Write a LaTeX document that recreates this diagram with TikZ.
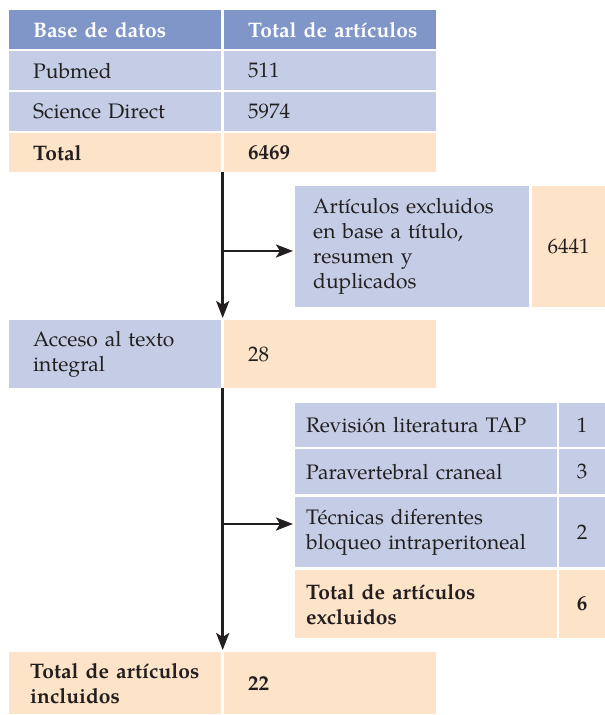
\documentclass[tikz,border=0pt]{standalone}
\usepackage{fontspec}
\setmainfont{TeX Gyre Pagella}
\usetikzlibrary{arrows.meta,calc}
\definecolor{hblue}{RGB}{128,149,200}
\definecolor{lblue}{RGB}{197,205,230}
\definecolor{lorange}{RGB}{253,227,200}
\definecolor{ink}{RGB}{35,31,32}
\begin{document}
\begin{tikzpicture}[x=1pt,y=-1pt,
  cell/.style={rectangle, anchor=north west, inner ysep=0pt, align=left, text=ink,
    font=\fontsize{21}{25}\selectfont},
  numcell/.style={rectangle, anchor=north west, inner sep=0pt, align=center, text=ink,
    font=\fontsize{21}{25}\selectfont},
  hdr/.style={fill=hblue, text=white, font=\fontsize{21}{25}\selectfont\bfseries},
  bl/.style={fill=lblue},
  orb/.style={fill=lorange},
  arr/.style={draw=ink, line width=2.6pt, -{Stealth[length=17pt,width=13pt,inset=4pt]}},
  ln/.style={draw=ink, line width=2.6pt}]
\useasboundingbox (0,0) rectangle (605,715);
% top table
\node[cell,hdr,minimum width=212pt,minimum height=39pt,text width=164pt,inner xsep=24pt] (h1) at (9,10) {Base de datos};
\node[cell,hdr,minimum width=212pt,minimum height=39pt,text width=164pt,inner xsep=24pt] (h2) at (224,10) {\mbox{Total de artículos}};
\node[cell,bl,minimum width=212pt,minimum height=39pt,text width=164pt,inner xsep=24pt] (r1a) at (9,51) {Pubmed};
\node[cell,bl,minimum width=212pt,minimum height=39pt,text width=164pt,inner xsep=24pt] (r1b) at (224,51) {511};
\node[cell,bl,minimum width=212pt,minimum height=39pt,text width=164pt,inner xsep=24pt] (r2a) at (9,92) {Science Direct};
\node[cell,bl,minimum width=212pt,minimum height=39pt,text width=164pt,inner xsep=24pt] (r2b) at (224,92) {5974};
\node[cell,orb,minimum width=212pt,minimum height=39pt,text width=164pt,inner xsep=24pt,font=\fontsize{21}{25}\selectfont\bfseries] (tota) at (9,133) {Total};
\node[cell,orb,minimum width=212pt,minimum height=39pt,text width=164pt,inner xsep=24pt,font=\fontsize{21}{25}\selectfont\bfseries] (totb) at (224,133) {6469};
% excluded box
\node[cell,bl,minimum width=234pt,minimum height=121pt,text width=198pt,inner xsep=18pt] (exa) at (295,186) {Artículos excluidos\\en base a título,\\resumen y\\duplicados};
\node[numcell,orb,minimum width=73pt,minimum height=121pt] (exb) at (532,186) {6441};
% acceso
\node[cell,bl,minimum width=212pt,minimum height=68pt,text width=164pt,inner xsep=24pt] (aca) at (9,320) {Acceso al texto\\integral};
\node[cell,orb,minimum width=212pt,minimum height=68pt,text width=164pt,inner xsep=24pt] (acb) at (224,320) {28};
% exclusion table
\node[cell,bl,minimum width=262pt,minimum height=44pt,text width=240pt,inner xsep=11pt] (e1a) at (295,403) {Revisión literatura TAP};
\node[numcell,bl,minimum width=46pt,minimum height=44pt] (e1b) at (559,403) {1};
\node[cell,bl,minimum width=262pt,minimum height=45pt,text width=240pt,inner xsep=11pt] (e2a) at (295,449) {Paravertebral craneal};
\node[numcell,bl,minimum width=46pt,minimum height=45pt] (e2b) at (559,449) {3};
\node[cell,bl,minimum width=262pt,minimum height=70pt,text width=240pt,inner xsep=11pt] (e3a) at (295,497) {Técnicas diferentes\\bloqueo intraperitoneal};
\node[numcell,bl,minimum width=46pt,minimum height=70pt] (e3b) at (559,497) {2};
\node[cell,orb,minimum width=262pt,minimum height=68pt,text width=240pt,inner xsep=11pt,font=\fontsize{21}{25}\selectfont\bfseries] (e4a) at (295,570) {Total de artículos\\excluidos};
\node[numcell,orb,minimum width=46pt,minimum height=68pt,font=\fontsize{21}{25}\selectfont\bfseries] (e4b) at (559,570) {6};
% final
\node[cell,orb,minimum width=212pt,minimum height=62pt,text width=170pt,inner xsep=21pt,font=\fontsize{21}{25}\selectfont\bfseries] (fa) at (9,652) {Total de artículos\\incluidos};
\node[cell,orb,minimum width=212pt,minimum height=62pt,text width=164pt,inner xsep=24pt,font=\fontsize{21}{25}\selectfont\bfseries] (fb) at (224,652) {22};
% connectors
\coordinate (s1) at ($(tota.south east)!0.5!(totb.south west)$);
\coordinate (t1) at ($(aca.north east)!0.5!(acb.north west)$);
\coordinate (s2) at ($(aca.south east)!0.5!(acb.south west)$);
\coordinate (t2) at ($(fa.north east)!0.5!(fb.north west)$);
\coordinate (j1) at (222.5,251);
\coordinate (j2) at (222.5,524);
\draw[arr,shorten >=2pt] (s1) -- (t1);
\draw[arr,shorten >=2pt] (s2) -- (t2);
\draw[arr,shorten >=2pt] (j1) -- (j1 -| exa.west);
\draw[arr,shorten >=2pt] (j2) -- (j2 -| e3a.west);
\end{tikzpicture}
\end{document}
